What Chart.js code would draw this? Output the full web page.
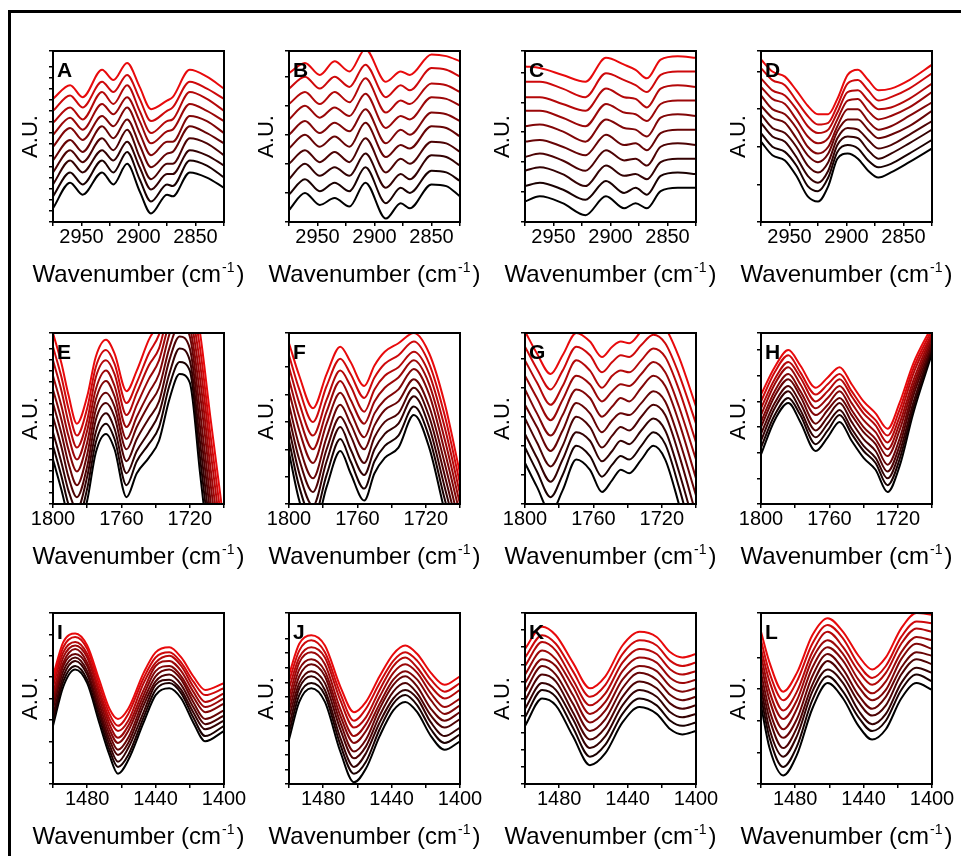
<!DOCTYPE html>
<html>
<head>
<meta charset="utf-8">
<script src="https://cdn.jsdelivr.net/npm/chart.js@4.4.0/dist/chart.umd.min.js"></script>
<style>
  html, body { margin: 0; padding: 0; background: #fff; overflow: hidden; }
  body { width: 961px; height: 856px; position: relative; }
  #frame { position: absolute; left: 8px; top: 10px; width: 1000px; height: 1000px;
           border-left: 3px solid #000; border-top: 3px solid #000; }
  canvas { position: absolute; }
</style>
</head>
<body>
<div id="frame"></div>

<script>
// wavenumber samples per panel, curves listed bottom (black) to top (red), y in A.U. (0-100 of the frame)
const wnA = [2975, 2960, 2949, 2932, 2922, 2910, 2899, 2889, 2875, 2870, 2855, 2840, 2825];
const curvesA = [
  [8, 23, 16, 29, 22, 34, 18, 5, 16, 15, 29, 26, 20],
  [15, 29, 22, 36, 29, 41, 25, 12, 22, 21, 36, 33, 26],
  [22, 36, 29, 42, 36, 47, 32, 19, 28, 28, 42, 39, 33],
  [29, 42, 35, 49, 42, 54, 38, 25, 34, 34, 49, 46, 39],
  [36, 48, 41, 56, 49, 60, 45, 32, 40, 41, 56, 52, 46],
  [44, 55, 48, 62, 56, 67, 52, 39, 47, 47, 62, 59, 52],
  [51, 61, 54, 69, 63, 73, 59, 46, 53, 54, 69, 65, 59],
  [58, 67, 60, 76, 69, 80, 65, 52, 59, 60, 76, 72, 65],
  [65, 74, 67, 82, 76, 86, 72, 59, 65, 67, 82, 78, 72],
  [72, 80, 73, 89, 83, 93, 79, 66, 71, 73, 89, 85, 78]
];

const wnB = [2975, 2961, 2948, 2935, 2922, 2908, 2890, 2877, 2869, 2850, 2837, 2825];
const curvesB = [
  [7, 17, 10, 14, 9, 23, 2, 11, 8, 22, 21, 15],
  [16, 25, 18, 23, 18, 32, 11, 20, 17, 30, 29, 24],
  [25, 34, 27, 32, 27, 40, 20, 28, 25, 39, 38, 33],
  [34, 42, 35, 41, 35, 49, 29, 37, 34, 47, 46, 41],
  [43, 51, 44, 50, 44, 58, 38, 45, 43, 56, 55, 50],
  [51, 59, 52, 58, 53, 66, 46, 54, 51, 64, 63, 59],
  [60, 68, 61, 67, 62, 75, 55, 62, 60, 73, 72, 68],
  [69, 76, 69, 76, 70, 84, 64, 71, 69, 81, 80, 76],
  [78, 85, 78, 85, 79, 92, 73, 80, 77, 90, 89, 85],
  [87, 93, 86, 94, 88, 101, 82, 88, 86, 98, 97, 94]
];

const wnC = [2975, 2962, 2942, 2922, 2904, 2888, 2878, 2868, 2856, 2841, 2825];
const curvesC = [
  [12, 15, 11, 4, 15, 8, 11, 8, 18, 20, 20],
  [21, 23, 19, 13, 24, 17, 20, 16, 27, 29, 28],
  [30, 32, 28, 21, 33, 27, 28, 25, 35, 37, 37],
  [38, 40, 36, 30, 42, 36, 37, 33, 44, 46, 45],
  [47, 48, 44, 39, 51, 45, 46, 42, 52, 54, 54],
  [56, 57, 53, 47, 60, 55, 54, 50, 61, 63, 62],
  [65, 65, 61, 56, 69, 64, 63, 59, 69, 71, 71],
  [73, 73, 69, 65, 78, 73, 72, 67, 78, 80, 79],
  [82, 82, 78, 73, 87, 83, 80, 76, 86, 88, 88],
  [91, 90, 86, 82, 96, 92, 89, 84, 95, 97, 96]
];

const wnD = [2975, 2965, 2954, 2944, 2934, 2925, 2916, 2908, 2899, 2890, 2881, 2872, 2861, 2845, 2825];
const curvesD = [
  [47, 39, 36, 27, 15, 12, 21, 37, 40, 37, 30, 26, 29, 35, 43],
  [52, 44, 41, 33, 21, 18, 26, 41, 45, 43, 36, 32, 34, 40, 48],
  [58, 50, 47, 38, 27, 23, 30, 45, 50, 49, 42, 37, 40, 46, 54],
  [63, 55, 52, 44, 33, 29, 35, 49, 55, 54, 48, 43, 45, 51, 59],
  [68, 61, 58, 49, 39, 35, 40, 53, 60, 60, 54, 49, 51, 56, 65],
  [74, 66, 63, 55, 44, 40, 44, 56, 66, 66, 59, 54, 56, 62, 70],
  [79, 72, 69, 60, 50, 46, 49, 60, 71, 72, 65, 60, 62, 67, 76],
  [84, 77, 74, 66, 56, 52, 54, 64, 76, 77, 71, 66, 67, 72, 81],
  [90, 83, 80, 71, 62, 57, 58, 68, 81, 83, 77, 71, 73, 78, 87],
  [95, 88, 85, 77, 68, 63, 63, 72, 86, 89, 83, 77, 78, 83, 92]
];

const wnE = [1800, 1795, 1791, 1786, 1780, 1775, 1769, 1764, 1757, 1751, 1744, 1738, 1732, 1726, 1720, 1714, 1708, 1702, 1700];
const curvesE = [
  [26, 8, -8, -17, 2, 30, 41, 32, 4, 18, 27, 37, 61, 76, 71, 18, -35, -87, -108],
  [34, 16, 0, -10, 9, 36, 47, 38, 11, 25, 35, 45, 69, 83, 78, 27, -25, -77, -97],
  [42, 24, 8, -3, 16, 42, 53, 44, 18, 31, 42, 53, 76, 91, 84, 36, -16, -67, -87],
  [51, 33, 16, 4, 22, 49, 59, 51, 25, 38, 50, 60, 84, 98, 91, 45, -6, -57, -76],
  [59, 41, 24, 11, 29, 55, 65, 57, 32, 45, 58, 68, 91, 105, 98, 54, 3, -47, -66],
  [67, 49, 32, 19, 36, 61, 72, 63, 38, 51, 65, 76, 99, 113, 104, 64, 13, -36, -55],
  [75, 57, 40, 26, 43, 67, 78, 69, 45, 58, 73, 84, 106, 120, 111, 73, 22, -26, -45],
  [84, 66, 48, 33, 49, 74, 84, 76, 52, 65, 81, 91, 114, 127, 118, 82, 32, -16, -34],
  [92, 74, 56, 40, 56, 80, 90, 82, 59, 71, 88, 99, 121, 135, 124, 91, 41, -6, -24],
  [100, 82, 64, 47, 63, 86, 96, 88, 66, 78, 96, 107, 129, 142, 131, 100, 51, 4, -13]
];

const wnF = [1800, 1794, 1786, 1778, 1770, 1764, 1756, 1750, 1744, 1736, 1727, 1718, 1709, 1700];
const curvesF = [
  [30, 2, -17, 10, 31, 18, 2, 18, 27, 33, 52, 33, -4, -37],
  [37, 10, -9, 17, 38, 25, 9, 25, 34, 40, 57, 39, 3, -31],
  [44, 18, -1, 25, 45, 32, 17, 32, 41, 47, 63, 45, 10, -25],
  [51, 26, 7, 32, 51, 40, 24, 39, 48, 53, 68, 51, 17, -19],
  [58, 34, 15, 39, 58, 47, 32, 46, 55, 60, 73, 57, 24, -13],
  [66, 43, 24, 47, 65, 54, 39, 53, 61, 67, 79, 64, 31, -6],
  [73, 51, 32, 54, 72, 61, 47, 60, 68, 74, 84, 70, 38, 0],
  [80, 59, 40, 61, 78, 69, 54, 67, 75, 80, 89, 76, 45, 6],
  [87, 67, 48, 69, 85, 76, 62, 74, 82, 87, 95, 82, 52, 12],
  [94, 75, 56, 76, 92, 83, 69, 81, 89, 94, 100, 88, 59, 18]
];

const wnG = [1800, 1793, 1785, 1778, 1770, 1762, 1755, 1749, 1744, 1739, 1732, 1725, 1718, 1710, 1700];
const curvesG = [
  [24, 10, -5, 8, 26, 20, 7, 14, 20, 18, 26, 34, 26, 0, -37],
  [33, 19, 4, 17, 34, 28, 16, 23, 28, 26, 34, 42, 35, 10, -27],
  [41, 27, 13, 26, 42, 37, 25, 31, 37, 35, 43, 50, 43, 19, -16],
  [50, 36, 22, 34, 51, 45, 33, 40, 45, 43, 51, 58, 52, 29, -6],
  [58, 45, 31, 43, 59, 53, 42, 49, 53, 52, 59, 66, 60, 38, 5],
  [67, 53, 40, 52, 67, 62, 51, 57, 62, 60, 68, 75, 69, 48, 15],
  [75, 62, 49, 61, 75, 70, 60, 66, 70, 69, 76, 83, 77, 57, 26],
  [84, 71, 58, 69, 84, 78, 68, 75, 78, 77, 84, 91, 86, 67, 36],
  [92, 79, 67, 78, 92, 87, 77, 83, 87, 86, 93, 99, 94, 76, 47],
  [101, 88, 76, 87, 100, 95, 86, 92, 95, 94, 101, 107, 103, 86, 57]
];

const wnH = [1800, 1792, 1784, 1777, 1768, 1761, 1754, 1747, 1740, 1733, 1726, 1719, 1711, 1700];
const curvesH = [
  [29, 49, 59, 48, 31, 39, 48, 37, 27, 20, 7, 22, 53, 88],
  [33, 52, 62, 52, 35, 43, 52, 41, 31, 24, 11, 26, 56, 90],
  [37, 56, 66, 55, 39, 47, 55, 44, 34, 27, 15, 30, 59, 92],
  [41, 59, 69, 59, 43, 51, 59, 48, 38, 31, 19, 34, 63, 93],
  [45, 63, 73, 63, 47, 55, 62, 52, 42, 35, 23, 38, 66, 95],
  [48, 66, 76, 66, 52, 58, 66, 55, 45, 38, 28, 43, 69, 97],
  [52, 70, 80, 70, 56, 62, 69, 59, 49, 42, 32, 47, 72, 99],
  [56, 73, 83, 74, 60, 66, 73, 63, 53, 46, 36, 51, 76, 100],
  [60, 77, 87, 77, 64, 70, 76, 66, 56, 49, 40, 55, 79, 102],
  [64, 80, 90, 81, 68, 74, 80, 70, 60, 53, 44, 59, 82, 104]
];

const wnI = [1500, 1494, 1487, 1480, 1473, 1467, 1462, 1456, 1447, 1440, 1432, 1425, 1418, 1411, 1400];
const curvesI = [
  [34, 57, 67, 59, 36, 17, 6, 14, 36, 52, 56, 50, 36, 25, 31],
  [37, 60, 69, 61, 39, 20, 10, 17, 39, 55, 59, 53, 39, 28, 34],
  [40, 63, 72, 64, 42, 23, 13, 21, 42, 58, 61, 55, 42, 32, 37],
  [44, 66, 74, 66, 44, 26, 17, 24, 46, 60, 64, 58, 45, 35, 40],
  [47, 69, 76, 69, 47, 29, 20, 27, 49, 63, 67, 61, 48, 38, 43],
  [50, 71, 79, 71, 50, 32, 24, 31, 52, 66, 69, 63, 51, 42, 47],
  [53, 74, 81, 74, 53, 35, 27, 34, 55, 69, 72, 66, 54, 45, 50],
  [57, 77, 83, 76, 55, 38, 31, 37, 59, 71, 75, 69, 57, 48, 53],
  [60, 80, 86, 79, 58, 41, 34, 41, 62, 74, 77, 71, 60, 52, 56],
  [63, 83, 88, 81, 61, 44, 38, 44, 65, 77, 80, 74, 63, 55, 59]
];

const wnJ = [1500, 1494, 1487, 1479, 1470, 1462, 1455, 1447, 1439, 1432, 1425, 1417, 1409, 1400];
const curvesJ = [
  [26, 48, 56, 48, 19, 1, 9, 28, 43, 48, 42, 28, 20, 25],
  [30, 52, 59, 52, 23, 6, 13, 32, 47, 52, 46, 32, 24, 29],
  [34, 56, 63, 55, 27, 10, 18, 36, 50, 55, 50, 36, 28, 33],
  [39, 59, 66, 59, 32, 15, 22, 40, 54, 59, 53, 40, 33, 38],
  [43, 63, 70, 63, 36, 19, 26, 44, 58, 63, 57, 44, 37, 42],
  [47, 67, 73, 66, 40, 24, 31, 47, 61, 66, 61, 49, 41, 46],
  [51, 71, 77, 70, 44, 28, 35, 51, 65, 70, 65, 53, 45, 50],
  [56, 74, 80, 74, 49, 33, 39, 55, 69, 74, 68, 57, 50, 55],
  [60, 78, 84, 77, 53, 37, 44, 59, 72, 77, 72, 61, 54, 59],
  [64, 82, 87, 81, 57, 42, 48, 63, 76, 81, 76, 65, 58, 63]
];

const wnK = [1500, 1490, 1482, 1472, 1462, 1453, 1443, 1433, 1423, 1415, 1408, 1400];
const curvesK = [
  [34, 50, 46, 28, 11, 18, 36, 45, 41, 32, 29, 31],
  [39, 55, 51, 33, 16, 23, 41, 50, 46, 37, 34, 36],
  [44, 59, 55, 38, 21, 28, 46, 55, 51, 42, 39, 41],
  [49, 64, 60, 42, 26, 33, 51, 60, 56, 47, 44, 46],
  [54, 69, 64, 47, 31, 38, 56, 65, 61, 52, 49, 51],
  [59, 73, 69, 52, 36, 43, 61, 69, 66, 57, 54, 56],
  [64, 78, 73, 57, 41, 48, 66, 74, 71, 62, 59, 61],
  [69, 83, 78, 61, 46, 53, 71, 79, 76, 67, 64, 66],
  [74, 87, 82, 66, 51, 58, 76, 84, 81, 72, 69, 71],
  [79, 92, 87, 71, 56, 63, 81, 89, 86, 77, 74, 76]
];

const wnL = [1500, 1495, 1487, 1479, 1470, 1461, 1452, 1443, 1435, 1427, 1418, 1409, 1400];
const curvesL = [
  [46, 21, 5, 17, 44, 59, 50, 34, 26, 32, 50, 59, 55],
  [51, 27, 10, 22, 49, 63, 54, 39, 31, 37, 55, 64, 60],
  [56, 32, 16, 28, 54, 67, 59, 43, 35, 41, 59, 68, 65],
  [60, 38, 21, 33, 58, 72, 63, 48, 40, 46, 64, 73, 70],
  [65, 43, 27, 38, 63, 76, 67, 52, 44, 51, 68, 77, 75],
  [70, 49, 32, 44, 68, 80, 72, 57, 49, 55, 73, 82, 79],
  [75, 54, 38, 49, 73, 84, 76, 61, 53, 60, 77, 86, 84],
  [79, 60, 43, 54, 77, 89, 80, 66, 58, 65, 82, 91, 89],
  [84, 65, 49, 60, 82, 93, 85, 70, 62, 69, 86, 95, 94],
  [89, 71, 54, 65, 87, 97, 89, 75, 67, 74, 91, 100, 99]
];

// x axis of each row: range, tick step, which ticks carry a label
const rowAxes = [
  { min: 2825, max: 2975, step: 25, label: v => v % 50 === 0 },
  { min: 1700, max: 1800, step: 20, label: v => (1800 - v) % 40 === 0 },
  { min: 1400, max: 1500, step: 20, label: v => v % 40 === 0 }
];

const panels = [
  { letter: 'A', wn: wnA, curves: curvesA, row: 0, col: 0, ystep: 6.5 },
  { letter: 'B', wn: wnB, curves: curvesB, row: 0, col: 1, ystep: 17 },
  { letter: 'C', wn: wnC, curves: curvesC, row: 0, col: 2, ystep: 17.5 },
  { letter: 'D', wn: wnD, curves: curvesD, row: 0, col: 3, ystep: 22 },
  { letter: 'E', wn: wnE, curves: curvesE, row: 1, col: 0, ystep: 6.5 },
  { letter: 'F', wn: wnF, curves: curvesF, row: 1, col: 1, ystep: 16 },
  { letter: 'G', wn: wnG, curves: curvesG, row: 1, col: 2, ystep: 17 },
  { letter: 'H', wn: wnH, curves: curvesH, row: 1, col: 3, ystep: 15 },
  { letter: 'I', wn: wnI, curves: curvesI, row: 2, col: 0, ystep: 12.5 },
  { letter: 'J', wn: wnJ, curves: curvesJ, row: 2, col: 1, ystep: 8.5 },
  { letter: 'K', wn: wnK, curves: curvesK, row: 2, col: 2, ystep: 10 },
  { letter: 'L', wn: wnL, curves: curvesL, row: 2, col: 3, ystep: 18.5 }
];

const FONT = '"Liberation Sans", Arial, sans-serif';
const colLeft = [53, 289, 525, 761];
const rowTop = [51, 333, 613];
const PLOT = 171;
const AXW = 45, AXH = 75, PADT = 10, PADR = 30;

// frame around the plot area, the panel letter and the x title with its superscript
const framePlugin = {
  id: 'frame',
  afterDatasetsDraw(chart, args, opts) {
    const { ctx, chartArea: a } = chart;
    ctx.save();
    ctx.strokeStyle = '#000';
    ctx.lineWidth = 2;
    ctx.strokeRect(a.left, a.top, a.right - a.left, a.bottom - a.top);
    ctx.fillStyle = '#000';
    ctx.font = 'bold 21px ' + FONT;
    ctx.textBaseline = 'top';
    ctx.textAlign = 'left';
    ctx.fillText(opts.letter, a.left + 4, a.top + 10);
    ctx.restore();
  },
  afterDraw(chart) {
    const { ctx, chartArea: a } = chart;
    const main = 'Wavenumber (cm', sup = '-1', close = ')';
    ctx.save();
    ctx.fillStyle = '#000';
    ctx.textBaseline = 'alphabetic';
    ctx.textAlign = 'left';
    ctx.font = '24px ' + FONT;
    const w1 = ctx.measureText(main).width, w3 = ctx.measureText(close).width;
    ctx.font = '14px ' + FONT;
    const w2 = ctx.measureText(sup).width + 3;
    let x = (a.left + a.right) / 2 - (w1 + w2 + w3) / 2;
    const base = a.bottom + 60;
    ctx.font = '24px ' + FONT;
    ctx.fillText(main, x, base);
    ctx.font = '14px ' + FONT;
    ctx.fillText(sup, x + w1 + 1, base - 10);
    ctx.font = '24px ' + FONT;
    ctx.fillText(close, x + w1 + w2, base);
    ctx.restore();
  }
};

function curveColor(k, n) {
  const t = k / (n - 1);
  return 'rgb(' + Math.round(232 * t) + ',' + Math.round(10 * t) + ',' + Math.round(12 * t) + ')';
}

panels.forEach(p => {
  const ax = rowAxes[p.row];
  const cv = document.createElement('canvas');
  const w = PLOT + AXW + PADR, h = PLOT + PADT + AXH;
  cv.width = w; cv.height = h;
  cv.style.left = (colLeft[p.col] - AXW) + 'px';
  cv.style.top = (rowTop[p.row] - PADT) + 'px';
  cv.style.width = w + 'px'; cv.style.height = h + 'px';
  document.body.appendChild(cv);

  const n = p.curves.length;
  const datasets = [];
  // red (top) first so it is painted over the darker ones
  for (let k = n - 1; k >= 0; k--) {
    datasets.push({
      data: p.wn.map((x, i) => ({ x: x, y: p.curves[k][i] })),
      borderColor: curveColor(k, n),
      borderWidth: 2,
      pointRadius: 0,
      fill: false,
      cubicInterpolationMode: 'monotone'
    });
  }

  new Chart(cv.getContext('2d'), {
    type: 'line',
    data: { datasets: datasets },
    options: {
      responsive: false,
      animation: false,
      layout: { padding: { top: PADT, right: PADR, left: 0, bottom: 0 } },
      plugins: {
        legend: { display: false },
        tooltip: { enabled: false },
        frame: { letter: p.letter }
      },
      scales: {
        x: {
          type: 'linear',
          reverse: true,
          min: ax.min,
          max: ax.max,
          border: { display: false },
          grid: { drawOnChartArea: false, drawTicks: true, tickLength: 4, color: '#000', lineWidth: 1.5 },
          ticks: {
            stepSize: ax.step,
            autoSkip: false,
            maxRotation: 0,
            padding: 1,
            color: '#000',
            font: { family: FONT, size: 20, lineHeight: 1 },
            callback: v => ax.label(v) ? String(v) : ''
          },
          title: { display: false },
          afterFit: s => { s.height = AXH; s.paddingLeft = 0; s.paddingRight = 0; }
        },
        y: {
          min: 0,
          max: 100,
          border: { display: false },
          grid: { drawOnChartArea: false, drawTicks: true, tickLength: 4, color: '#000', lineWidth: 1.5 },
          ticks: { display: false, stepSize: p.ystep },
          title: {
            display: true,
            text: 'A.U.',
            color: '#000',
            font: { family: FONT, size: 22 },
            padding: { top: 10, bottom: 0 }
          },
          afterFit: s => { s.width = AXW; }
        }
      }
    },
    plugins: [framePlugin]
  });
});
</script>
</body>
</html>
